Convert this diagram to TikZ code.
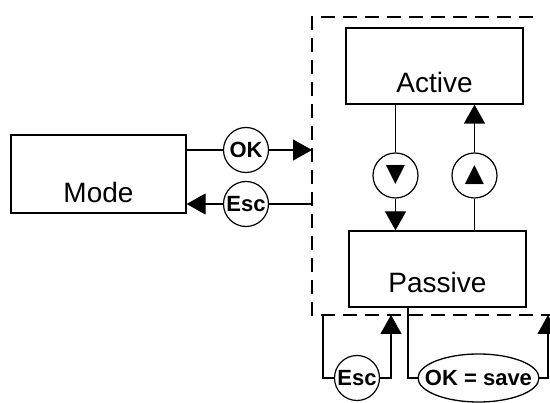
\documentclass[tikz,border=0pt]{standalone}
\usepackage{fontspec}
\setmainfont{Liberation Sans}
\newfontfamily\symfont{DejaVu Sans}
\usetikzlibrary{arrows.meta}
\tikzset{
  box/.style={draw, line width=1.3pt, inner sep=0pt, minimum width=177pt,
              font=\fontsize{28}{30}\selectfont},
  keycirc/.style={draw, circle, line width=1.2pt, inner sep=0pt, minimum size=45pt,
                  fill=white, font=\bfseries\fontsize{22}{22}\selectfont},
  keyoval/.style={inner sep=0pt, minimum width=121pt, minimum height=48pt,
                  font=\bfseries\fontsize{22}{22}\selectfont},
  keysym/.style={keycirc, font=\symfont\fontsize{25}{25}\selectfont},
  arr/.style={line width=1.3pt, -{Triangle[length=19pt,width=21pt]}},
  link/.style={line width=1.3pt},
  frame/.style={line width=1.3pt, dash pattern=on 14pt off 8pt},
}
\begin{document}
\begin{tikzpicture}[x=1pt,y=1pt]
    \useasboundingbox (0,0) rectangle (550,-403);
    % dashed frame, open on the right
    \coordinate (ftr) at (533,-17);
    \coordinate (ftl) at (312,-17);
    \coordinate (fbl) at (312,-315);
    \coordinate (fbr) at (550,-315);
    \draw[frame] (ftr) -- (ftl) -- (fbl) -- (fbr);
    % states
    \node[box, minimum width=175pt, text height=68pt, text depth=10pt] (mode) at (98.5,-174) {Mode};
    \node[box, text height=65pt, text depth=11pt] (active) at (434.5,-66) {Active};
    \node[box, text height=62pt, text depth=14pt] (passive) at (437.5,-269) {Passive};
    % keys
    \node[keycirc] (ok) at (246,-150) {OK};
    \node[keycirc] (esc) at (246,-204) {Esc};
    \node[keysym] (dn) at (395.5,-175.5) {▼};
    \node[keysym] (up) at (474.5,-175.5) {▲};
    \node[keycirc] (escb) at (357,-378) {Esc};
    \draw[link, fill=white] (478.5,-378) ellipse [x radius=60.5pt, y radius=24pt];
    \node[keyoval] (save) at (478.5,-378) {OK = save};
    \coordinate (escout) at (323,-315);
    \coordinate (escin) at (391,-315);
    \coordinate (savein) at (548,-315);
    % connectors
    \draw[link] (mode.east |- ok) -- (ok);
    \draw[arr] (ok) -- (ok -| ftl);
    \draw[link] (esc -| ftl) -- (esc);
    \draw[arr] (esc) -- (mode.east |- esc);
    \draw[link] (active.south -| dn) -- (dn);
    \draw[arr] (dn) -- (passive.north -| dn);
    \draw[link] (passive.north -| up) -- (up);
    \draw[arr] (up) -- (active.south -| up);
    \draw[link] (escout) |- (escb);
    \draw[arr] (escb) -| (escin);
    \draw[link] ([xshift=-29.5pt]passive.south) |- (save);
    \draw[arr] (save) -| (savein);
\end{tikzpicture}
\end{document}
